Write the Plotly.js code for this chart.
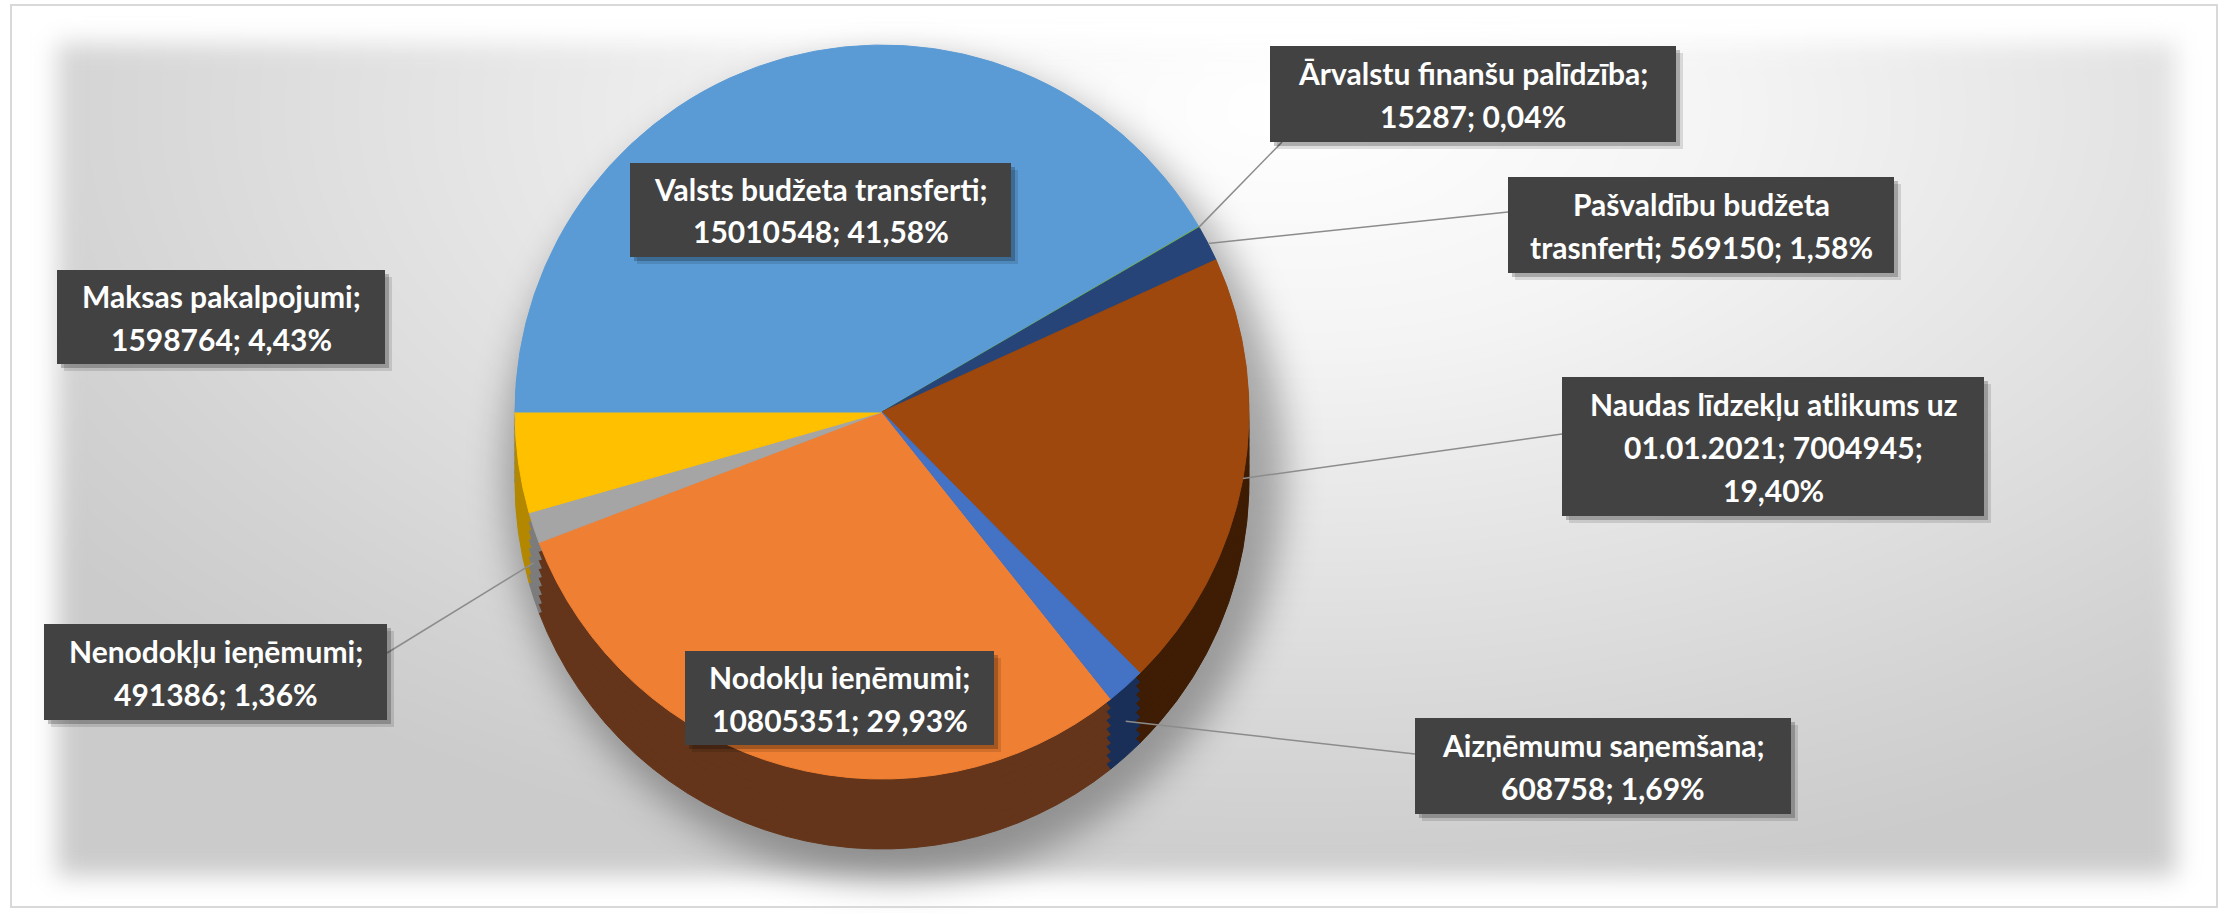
<!DOCTYPE html>
<html>
<head>
<meta charset="utf-8">
<script src="https://cdn.plot.ly/plotly-3.0.1.min.js"></script>
<style>
  html, body { margin: 0; padding: 0; background: #ffffff; }
  #wrap { position: relative; width: 2224px; height: 913px; overflow: hidden; background: #ffffff; }
  #bg { position: absolute; left: 57px; top: 43px; width: 2119px; height: 833px; filter: blur(12px);
        background: radial-gradient(ellipse 70% 95% at 58% 8%, #ffffff 0%, #f4f4f4 30%, #e2e2e2 60%, #d3d3d3 85%, #cbcbcb 100%); }
  #castshadow { position: absolute; left: 505px; top: 60px; width: 780px; height: 820px; border-radius: 50%;
        background: rgba(0,0,0,0.30); filter: blur(18px); }
  #frame { position: absolute; left: 10px; top: 4px; width: 2208px; height: 904px; border: 2px solid #d9d9d9; box-sizing: border-box; }
  #chart { position: absolute; left: 0; top: 0; width: 2224px; height: 913px; }
</style>
</head>
<body>
<div id="wrap">
  <div id="bg"></div>
  <div id="castshadow"></div>
  <div id="frame"></div>
  <div id="chart"></div>
</div>
<script>
// ---------------- data ----------------
const categories = [
  "Nodokļu ieņēmumi",
  "Nenodokļu ieņēmumi",
  "Maksas pakalpojumi",
  "Valsts budžeta transferti",
  "Ārvalstu finanšu palīdzība",
  "Pašvaldību budžeta trasnferti",
  "Naudas līdzekļu atlikums uz 01.01.2021",
  "Aizņēmumu saņemšana"
];
const values = [10805351, 491386, 1598764, 15010548, 15287, 569150, 7004945, 608758];

// ---------------- styles ----------------
const topColors  = ["#EF7F32", "#A5A5A5", "#FFC000", "#5B9BD5", "#70AD47", "#264478", "#9E480E", "#4472C4"];
const sideColors = ["#64351A", "#7C7C7C", "#B38800", "#3F6E99", "#4E7A31", "#17294A", "#3E1D04", "#1A2F58"];
// words per label line
const lineWords = [[2,2],[2,2],[2,2],[3,2],[3,2],[2,3],[4,2,1],[2,2]];
// label boxes in pixels [x0, y0, x1, y1]
const labelBoxes = [
  [685, 651, 994, 745],
  [44, 624, 387, 720],
  [57, 270, 385, 364],
  [630, 163, 1011, 257],
  [1270, 46, 1676, 142],
  [1508, 177, 1894, 273],
  [1562, 377, 1984, 516],
  [1415, 718, 1791, 814]
];
// leader line: attach point on box (px) and drop down the side wall (px)
const leaders = [
  null,
  {x: 387, y: 653, drop: 35},
  null,
  null,
  {x: 1282, y: 142, drop: 0},
  {x: 1508, y: 212, drop: 0},
  {x: 1562, y: 434, drop: 0},
  {x: 1415, y: 754, drop: 35}
];

const W = 2224, H = 913;
const CX = 882, CY = 412, R = 367, DEPTH = 70, LAYERS = 8;
const LINE_GAP = 43;
const FONT = {family: "Lato, 'Open Sans', sans-serif", size: 30, color: "#ffffff", weight: "bold"};

// ---------------- derived ----------------
const total = values.reduce((a, b) => a + b, 0);
const valstsIdx = 3;
const before = values.slice(0, valstsIdx).reduce((a, b) => a + b, 0);
const rotation = 270 - 360 * before / total;   // Valsts slice starts at 9 o'clock

const px = x => x / W;
const py = y => 1 - y / H;

const domainX = [(CX - 650) / W, (CX + 650) / W];
function domainY(off) {
  const c = 1 - (CY + off) / H, h = R / H;
  return [c - h, c + h];
}

const traces = [];
for (let k = LAYERS; k >= 0; k--) {
  const off = DEPTH * k / LAYERS;
  const cols = k === 0 ? topColors : sideColors;
  traces.push({
    type: "pie",
    values: values,
    labels: categories,
    sort: false,
    direction: "clockwise",
    rotation: rotation,
    domain: {x: domainX, y: domainY(off)},
    marker: {colors: cols, line: {color: cols, width: 1}},
    textinfo: "none",
    hoverinfo: k === 0 ? "label+value+percent" : "skip",
    showlegend: false
  });
}

function fmtPct(v) {
  return (v / total * 100).toFixed(2).replace(".", ",") + "%";
}

const shapes = [];
const annotations = [];
let cum = 0;
categories.forEach((name, i) => {
  const v = values[i];
  const mid = (rotation + 360 * (cum + v / 2) / total) * Math.PI / 180;
  cum += v;

  const words = (name + "; " + v + "; " + fmtPct(v)).split(" ");
  const lines = [];
  let p = 0;
  lineWords[i].forEach(n => { lines.push(words.slice(p, p + n).join(" ")); p += n; });

  const b = labelBoxes[i];
  const bx = (b[0] + b[2]) / 2, by = (b[1] + b[3]) / 2;

  // leader line
  const L = leaders[i];
  if (L) {
    const tx = CX + R * Math.sin(mid);
    const ty = CY - R * Math.cos(mid) + L.drop;
    shapes.push({type: "line", xref: "paper", yref: "paper",
      x0: px(L.x), y0: py(L.y), x1: px(tx), y1: py(ty),
      line: {color: "#8c8c8c", width: 1.5}});
  }
  // shadow + box
  [[7, 0.12], [4, 0.22]].forEach(s => {
    shapes.push({type: "rect", xref: "paper", yref: "paper",
      x0: px(b[0] + s[0]), x1: px(b[2] + s[0]), y0: py(b[1] + s[0]), y1: py(b[3] + s[0]),
      fillcolor: "rgba(0,0,0," + s[1] + ")", line: {width: 0}});
  });
  shapes.push({type: "rect", xref: "paper", yref: "paper",
    x0: px(b[0]), x1: px(b[2]), y0: py(b[1]), y1: py(b[3]),
    fillcolor: "#424242", line: {width: 0}});

  lines.forEach((t, j) => {
    annotations.push({
      xref: "paper", yref: "paper",
      x: px(bx), y: py(by + (j - (lines.length - 1) / 2) * LINE_GAP),
      xanchor: "center", yanchor: "middle",
      text: t, showarrow: false, font: FONT
    });
  });
});

const layout = {
  width: W, height: H,
  margin: {l: 0, r: 0, t: 0, b: 0, pad: 0},
  paper_bgcolor: "rgba(0,0,0,0)",
  plot_bgcolor: "rgba(0,0,0,0)",
  showlegend: false,
  shapes: shapes,
  annotations: annotations
};

Plotly.newPlot("chart", traces, layout, {displayModeBar: false, staticPlot: true});
</script>
</body>
</html>
